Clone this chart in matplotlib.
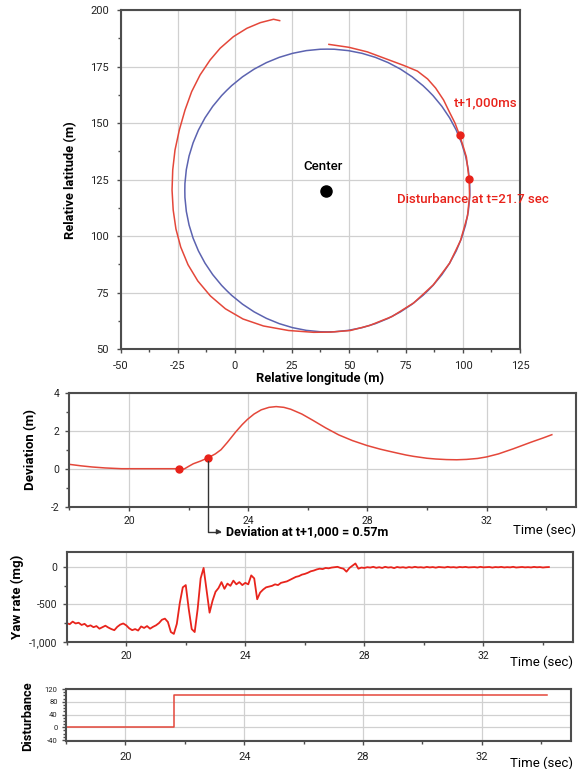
import numpy as np
import matplotlib
matplotlib.use("Agg")
import matplotlib.pyplot as plt
from matplotlib.patches import Circle
from matplotlib.ticker import MultipleLocator, FuncFormatter

plt.rcParams['font.family'] = ['Roboto', 'DejaVu Sans']
plt.rcParams['axes.unicode_minus'] = False

# ---------------------------------------------------------------------------
# data
# ---------------------------------------------------------------------------
# reference circle and its centre
circ_center = (40.5, 120.2)
circ_radius = 62.5
center_pt = (40.0, 120.0)

# driven trajectory (relative longitude / latitude, m)
traj_x = [19.6, 16.9, 11.1, 5.2, -0.7, -6.5, -10.9, -15.3, -19.0, -21.9,
          -24.4, -26.3, -27.3, -27.6, -27.1, -25.9, -23.8, -20.6, -16.3, -10.8,
          -4.2, 3.5, 12.5, 23.5, 34.5, 42.0,
          50.6, 59.0, 68.9, 78.4, 87.0, 94.1, 98.9, 102.0, 102.9, 102.7,
          101.5, 100.0, 98.5, 96.5, 94.0, 91.5, 88.0, 84.5, 80.0, 74.0,
          66.0, 58.0, 50.0, 41.2]
traj_y = [195.3, 195.9, 194.4, 191.9, 188.2, 183.1, 177.9, 171.3, 163.9, 155.8,
          147.0, 138.1, 129.3, 120.4, 111.6, 103.2, 95.2, 87.4, 80.2, 73.6,
          67.9, 63.4, 60.3, 58.3, 57.5, 57.6,
          58.3, 60.5, 64.5, 70.5, 78.5, 88.0, 98.0, 109.0, 118.0, 125.1,
          135.0, 140.0, 144.7, 150.0, 155.0, 160.2, 165.5, 169.5, 173.0, 175.5,
          178.5, 181.5, 183.5, 184.8]
event_x = [102.7, 98.5]
event_y = [125.1, 144.7]

# deviation from the circle (m)
dev_t = [18.0, 18.4, 18.77, 19.2, 19.75, 20.62, 21.67, 21.85, 22.0, 22.16,
         22.4, 22.65, 22.9, 23.09, 23.3, 23.58, 23.8, 23.98, 24.2, 24.44,
         24.7, 24.94, 25.2, 25.43, 25.8, 26.17, 26.6, 27.04, 27.5, 27.99,
         28.43, 28.7, 29.01, 29.3, 29.55, 30.0, 30.3, 30.66, 31.0, 31.33,
         31.7, 32.0, 32.4, 32.9, 33.5, 33.9, 34.19]
dev_v = [0.23, 0.15, 0.09, 0.04, 0.0, 0.0, 0.0, -0.02, 0.12, 0.26,
         0.40, 0.57, 0.78, 1.00, 1.38, 1.93, 2.32, 2.60, 2.88, 3.10,
         3.23, 3.27, 3.23, 3.13, 2.88, 2.55, 2.15, 1.78, 1.48, 1.22,
         1.03, 0.93, 0.82, 0.72, 0.65, 0.55, 0.51, 0.48, 0.47, 0.49,
         0.54, 0.62, 0.78, 1.05, 1.40, 1.62, 1.79]
dev_dots_t = [21.67, 22.65]
dev_dots_v = [0.0, 0.57]

# yaw rate (mg), one sample every 0.1 s from 18.0 s
yaw_t0 = 18.0
yaw_dt = 0.1
yaw_v = [-750, -765, -730, -755, -745, -775, -760, -795, -780, -805,
         -790, -825, -805, -785, -810, -830, -845, -800, -770, -755,
         -780, -820, -845, -830, -850, -795, -815, -790, -825, -800,
         -780, -750, -705, -690, -735, -870, -895, -760, -480, -270,
         -240, -560, -830, -870, -560, -150, -10, -310, -610, -450,
         -330, -280, -200, -290, -220, -250, -180, -230, -200, -240,
         -210, -230, -110, -150, -430, -340, -300, -270, -260, -250,
         -230, -240, -210, -200, -190, -170, -150, -130, -120, -100,
         -90, -75, -55, -45, -30, -20, -25, -10, -15, -5,
         0, 5, -10, -20, -60, -10, 20, 50, -20, -5,
         -10, 0, -5, 5, -8, 0, -10, 5, -5, 0,
         -12, 3, -5, 0, -8, 2, -5, 5, -3, 0,
         -6, 4, -3, 2, -6, 3, 0, -4, 5, -2,
         1, -5, 3, -1, 4, -3, 0, 2, -4, 5,
         -2, 0, 3, -5, 2, -1, 4, -3, 1, -2,
         5, -4, 0, 3, -2, 1, -3, 4, -1, 2,
         -4, 0, 2]

# disturbance input
dist_t = [18.0, 21.65, 34.2]
dist_v = [0, 100, 100]

# ---------------------------------------------------------------------------
RED = '#e4473a'
RED_DOT = '#e8221a'
BLUE = '#5c63b0'
FRAME = '#4d4d4d'
GRID = '#d0d0d0'


def style(ax, lab_size=7, pad=4):
    for s in ax.spines.values():
        s.set_color(FRAME)
        s.set_linewidth(1.5)
    ax.grid(True, which='major', color=GRID, lw=0.9)
    ax.set_axisbelow(True)
    ax.tick_params(which='both', direction='out', color=FRAME, labelsize=lab_size,
                   pad=pad, labelcolor='#222222')
    ax.tick_params(which='major', length=3, width=1)
    ax.tick_params(which='minor', length=2, width=1)


fig = plt.figure(figsize=(5.78, 7.69), dpi=100)

# --- trajectory panel ------------------------------------------------------
ax1 = fig.add_axes([0.2093, 0.5458, 0.6903, 0.4412])
style(ax1, 8, 5.5)
ax1.add_patch(Circle(circ_center, circ_radius, fill=False, ec=BLUE, lw=1.1))
ax1.plot(traj_x, traj_y, color=RED, lw=1.1)
ax1.plot(event_x, event_y, 'o', color=RED_DOT, ms=5)
ax1.plot(*center_pt, 'o', color='black', ms=8)
ax1.set_xlim(-50, 125)
ax1.set_ylim(50, 200)
ax1.xaxis.set_major_locator(MultipleLocator(25))
ax1.xaxis.set_minor_locator(MultipleLocator(12.5))
ax1.yaxis.set_major_locator(MultipleLocator(25))
ax1.yaxis.set_minor_locator(MultipleLocator(12.5))
ax1.set_xlabel('Relative longitude (m)', fontsize=9.3, fontweight='bold')
ax1.set_ylabel('Relative latitude (m)', fontsize=9.3, fontweight='bold')
ax1.xaxis.set_label_coords(0.5, -0.065)
ax1.yaxis.set_label_coords(-0.11, 0.5)
ax1.text(38.6, 130.6, 'Center', fontsize=9.5, fontweight='medium',
         ha='center', va='center')
ax1.text(109.9, 158.8, 't+1,000ms', fontsize=9.5, fontweight='medium',
         color=RED_DOT, ha='center', va='center')
ax1.text(70.9, 116.0, 'Disturbance at t=21.7 sec', fontsize=9.5,
         fontweight='medium', color=RED_DOT, ha='left', va='center')

# --- deviation panel -------------------------------------------------------
ax2 = fig.add_axes([0.1199, 0.3411, 0.8766, 0.1482])
style(ax2, 7.5, 4)
ax2.plot(dev_t, dev_v, color=RED, lw=1.1)
ax2.plot(dev_dots_t, dev_dots_v, 'o', color=RED_DOT, ms=5)
ax2.set_xlim(18, 35)
ax2.set_ylim(-2, 4)
ax2.xaxis.set_major_locator(MultipleLocator(4))
ax2.xaxis.set_minor_locator(MultipleLocator(2))
ax2.yaxis.set_major_locator(MultipleLocator(2))
ax2.yaxis.set_minor_locator(MultipleLocator(1))
ax2.set_ylabel('Deviation (m)', fontsize=9.5, fontweight='bold')
ax2.yaxis.set_label_coords(-0.064, 0.5)
ax2.text(1.0, -0.204, 'Time (sec)', transform=ax2.transAxes, fontsize=9.5,
         ha='right', va='center')
ax2.annotate('', xy=(23.12, -3.32), xytext=(dev_dots_t[1], dev_dots_v[1] - 0.15),
             annotation_clip=False,
             arrowprops=dict(arrowstyle='-|>', color='#333333', lw=1,
                             mutation_scale=7,
                             connectionstyle='angle,angleA=90,angleB=0,rad=0',
                             shrinkA=0, shrinkB=0))
ax2.text(23.26, -3.32, 'Deviation at t+1,000 = 0.57m', fontsize=9,
         fontweight='bold', ha='left', va='center', clip_on=False)

# --- yaw rate panel --------------------------------------------------------
yaw_t = yaw_t0 + yaw_dt * np.arange(len(yaw_v))
ax3 = fig.add_axes([0.1154, 0.1655, 0.8754, 0.1163])
style(ax3, 7.5, 4)
ax3.plot(yaw_t, yaw_v, color='#e8241c', lw=1.3)
ax3.set_xlim(18, 35)
ax3.set_ylim(-1000, 200)
ax3.xaxis.set_major_locator(MultipleLocator(4))
ax3.xaxis.set_minor_locator(MultipleLocator(2))
ax3.set_yticks([-1000, -500, 0])
ax3.yaxis.set_minor_locator(MultipleLocator(250))
ax3.yaxis.set_major_formatter(FuncFormatter(lambda v, p: f'{v:,.0f}'))
ax3.set_ylabel('Yaw rate (mg)', fontsize=9.5, fontweight='bold')
ax3.yaxis.set_label_coords(-0.084, 0.5)
ax3.text(1.0, -0.227, 'Time (sec)', transform=ax3.transAxes, fontsize=9.5,
         ha='right', va='center')

# --- disturbance panel -----------------------------------------------------
ax4 = fig.add_axes([0.1142, 0.0368, 0.8737, 0.0672])
style(ax4, 7.5, 5)
ax4.step(dist_t, dist_v, where='post', color=RED, lw=1.1)
ax4.set_xlim(18, 35)
ax4.set_ylim(-42, 120)
ax4.xaxis.set_major_locator(MultipleLocator(4))
ax4.xaxis.set_minor_locator(MultipleLocator(2))
ax4.set_yticks([-40, 0, 40, 80, 120])
ax4.yaxis.set_minor_locator(MultipleLocator(10))
ax4.tick_params(axis='y', labelsize=5.5, pad=3)
ax4.tick_params(axis='x', labelsize=8)
ax4.set_ylabel('Disturbance', fontsize=9.3, fontweight='bold')
ax4.yaxis.set_label_coords(-0.063, 0.48)
ax4.text(1.004, -0.43, 'Time (sec)', transform=ax4.transAxes, fontsize=9.5,
         ha='right', va='center')

fig.savefig('out.png', dpi=100, facecolor='white')
